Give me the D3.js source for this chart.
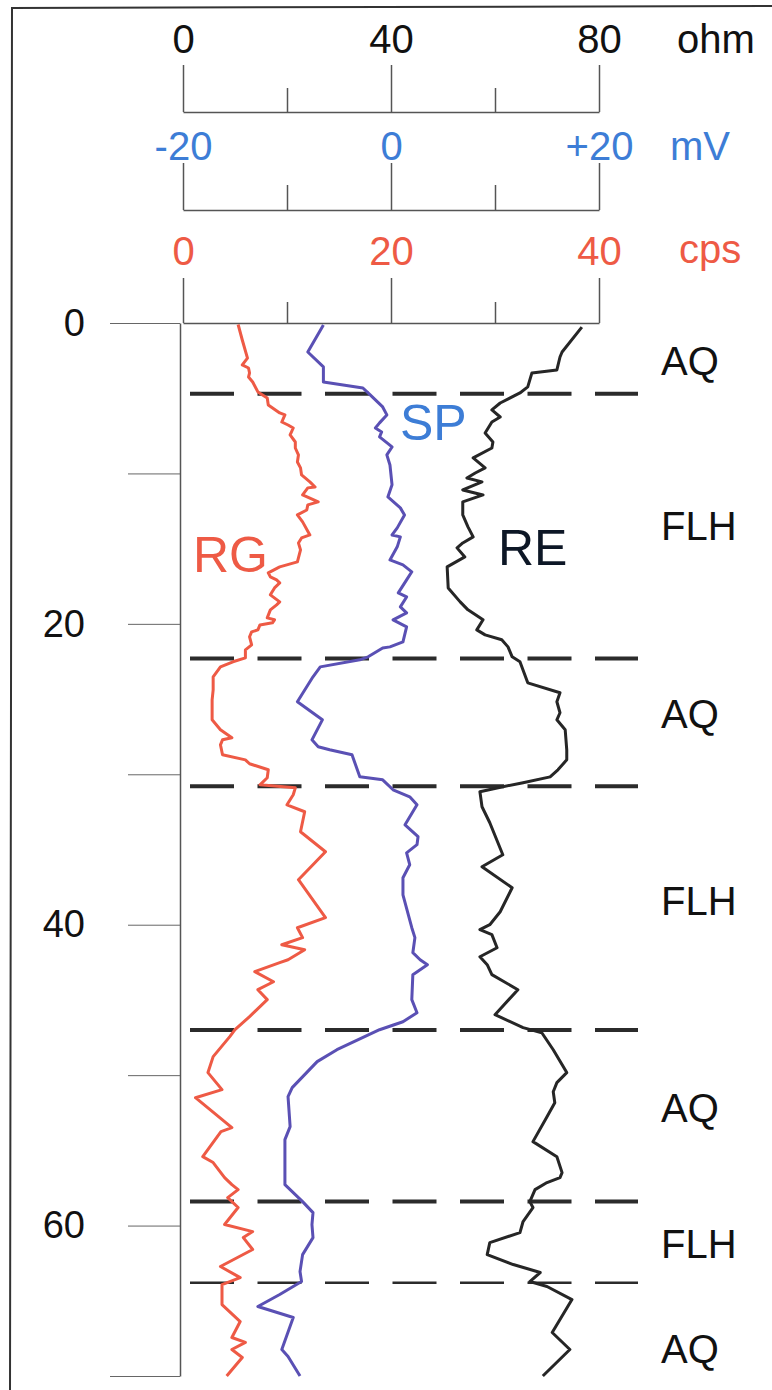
<!DOCTYPE html>
<html>
<head>
<meta charset="utf-8">
<script src="https://cdn.jsdelivr.net/npm/d3@7"></script>
<style>
  body { margin: 0; background: #fff; }
  svg { display: block; }
  text { font-family: 'Liberation Sans', Arial, sans-serif; }
</style>
</head>
<body>
<div id="chart"></div>
<script>
// depth (m) and readings along the well log
const rgDepth = [0.1, 1.13, 2.33, 2.79, 2.99, 3.32, 3.59, 3.92, 4.58, 4.98, 5.45, 5.98, 6.11, 6.58, 6.78, 6.98, 7.44, 7.91, 8.31, 8.77, 9.24, 9.63, 10.1, 10.56, 10.9, 10.96, 11.43, 11.89, 12.09, 12.43, 12.76, 13.22, 14.09, 14.29, 14.62, 15.08, 15.88, 16.21, 16.61, 16.88, 17.08, 17.28, 17.61, 18.07, 18.54, 18.74, 19.07, 19.6, 19.73, 19.93, 20.07, 20.4, 20.53, 20.86, 21.4, 21.73, 22.26, 22.52, 22.86, 23.52, 24.39, 25.05, 26.38, 27.04, 27.57, 27.71, 28.04, 28.7, 29.04, 29.3, 29.7, 30.23, 30.7, 30.9, 31.36, 32.03, 32.49, 33.82, 35.15, 37.01, 39.53, 40.2, 40.86, 41.33, 41.66, 42.33, 42.52, 43.12, 43.79, 44.32, 44.98, 46.11, 46.98, 47.44, 48.77, 49.83, 50.96, 51.5, 53.49, 53.75, 55.42, 55.81, 56.81, 57.28, 57.61, 58.14, 58.8, 59.93, 60.4, 60.8, 61.59, 62.72, 63.46, 63.92, 65.25, 66.38, 67.44, 67.77, 68.24, 68.77, 70.0];
const rgCps = [5.3, 5.7, 6.2, 5.7, 6.3, 6.4, 6.3, 6.7, 7.2, 8.1, 8.2, 9.3, 9.8, 9.5, 10.1, 10.6, 10.3, 10.8, 10.8, 11.1, 11.0, 11.3, 11.4, 12.2, 12.7, 12.0, 11.5, 13.0, 12.0, 11.9, 11.0, 11.5, 12.2, 11.4, 11.1, 11.3, 11.0, 9.3, 8.2, 8.4, 9.0, 9.3, 8.8, 8.4, 9.3, 9.0, 8.4, 8.1, 8.8, 8.6, 7.4, 7.2, 6.6, 6.4, 6.6, 6.0, 6.0, 4.8, 3.6, 2.9, 2.9, 2.8, 2.8, 3.6, 4.7, 3.8, 3.6, 3.8, 6.0, 6.4, 8.2, 8.1, 7.4, 10.8, 10.6, 10.0, 11.7, 11.3, 13.7, 11.1, 13.7, 11.0, 11.5, 9.5, 11.7, 10.1, 9.3, 6.9, 8.7, 7.2, 8.1, 6.4, 5.0, 4.5, 2.9, 2.4, 3.75, 1.2, 4.7, 3.65, 1.9, 2.9, 4.0, 4.7, 5.3, 4.3, 5.3, 4.0, 6.7, 5.8, 6.7, 3.6, 5.5, 3.75, 3.75, 5.5, 4.7, 6.0, 4.7, 5.7, 4.2];

const spDepth = [0.13, 1.93, 2.92, 3.92, 4.32, 4.78, 5.58, 6.11, 6.64, 6.98, 7.24, 7.57, 8.24, 8.77, 9.44, 10.76, 11.56, 12.29, 12.76, 13.62, 14.09, 14.22, 14.88, 15.75, 16.08, 16.54, 17.08, 17.94, 18.21, 18.87, 19.27, 19.73, 20.2, 21.2, 21.53, 21.6, 22.19, 22.39, 22.86, 23.52, 25.18, 26.38, 27.71, 28.17, 28.37, 28.7, 30.17, 30.37, 31.03, 31.5, 32.03, 33.36, 34.15, 34.68, 35.22, 36.01, 36.88, 38.01, 40.2, 40.86, 41.86, 42.33, 42.66, 43.32, 44.98, 45.85, 46.45, 46.98, 48.31, 49.1, 50.83, 51.43, 53.42, 54.29, 56.81, 57.28, 58.41, 59.14, 59.93, 60.8, 61.93, 63.06, 63.72, 64.58, 65.38, 66.11, 68.24, 68.7, 70.0];
const spMv = [-6.5, -8.0, -6.5, -6.5, -2.7, -2.0, -0.8, -0.4, -1.1, -1.5, -0.9, -1.1, 0.1, -0.4, -0.1, 0.1, -0.3, 0.9, 1.3, 0.6, 0.1, 0.9, 0.6, -0.1, 1.15, 2.0, 1.5, 0.7, 1.5, 0.9, 1.5, 0.2, 1.5, 1.15, -0.1, -0.8, -2.2, -3.0, -6.8, -7.5, -9.0, -6.6, -7.6, -7.0, -5.9, -3.75, -3.0, -0.8, 0.2, 1.8, 2.5, 1.35, 2.6, 2.5, 1.5, 1.8, 1.15, 1.15, 2.0, 2.3, 2.1, 2.8, 3.5, 2.1, 2.0, 2.5, 1.15, -1.1, -5.2, -7.1, -9.5, -9.9, -9.7, -10.2, -10.2, -10.2, -8.5, -7.5, -7.6, -7.5, -8.5, -8.75, -8.6, -10.7, -12.8, -9.4, -10.5, -9.9, -8.75];

const reDepth = [0.27, 1.93, 2.26, 3.12, 3.32, 4.25, 4.65, 5.32, 5.78, 6.25, 6.58, 7.31, 7.91, 8.31, 8.97, 9.63, 9.97, 10.3, 10.56, 11.1, 11.43, 11.89, 12.76, 13.55, 14.22, 14.62, 14.95, 15.55, 16.21, 17.61, 18.54, 19.07, 19.73, 20.4, 20.73, 21.06, 21.53, 22.19, 22.52, 23.92, 24.58, 25.18, 25.91, 26.38, 27.04, 28.37, 29.04, 29.7, 30.17, 30.56, 30.83, 31.16, 32.16, 33.22, 35.35, 36.15, 37.54, 39.14, 40.0, 40.33, 40.66, 41.53, 42.13, 42.66, 43.32, 44.32, 45.98, 46.84, 47.18, 48.31, 49.83, 50.5, 51.1, 51.83, 52.76, 54.42, 55.42, 56.48, 56.81, 57.14, 57.61, 58.41, 58.8, 59.73, 60.47, 61.13, 61.93, 62.59, 63.12, 63.72, 64.05, 64.92, 67.11, 68.24, 70.0];
const reOhm = [76.7, 72.9, 72.5, 71.9, 67.1, 66.3, 64.8, 61.0, 59.4, 61.0, 59.4, 58.1, 59.6, 59.4, 55.8, 58.1, 56.2, 54.6, 57.5, 53.8, 57.7, 53.8, 53.8, 54.8, 55.8, 53.8, 52.7, 54.2, 50.8, 51.0, 53.3, 54.8, 57.7, 56.5, 58.1, 61.3, 62.5, 63.3, 64.8, 66.3, 72.5, 71.9, 72.5, 71.9, 73.5, 73.8, 73.8, 72.1, 70.6, 65.4, 61.5, 57.1, 57.5, 59.0, 61.5, 57.5, 63.3, 61.0, 59.0, 57.1, 59.4, 60.4, 57.1, 58.5, 59.4, 64.4, 60.0, 65.4, 69.0, 71.2, 73.8, 71.9, 71.2, 71.5, 70.0, 67.3, 71.9, 72.9, 72.5, 70.0, 67.7, 66.7, 67.3, 65.4, 64.8, 59.0, 58.5, 63.5, 68.7, 66.7, 70.0, 74.8, 71.0, 74.4, 69.2];

const boundaries = [4.7, 22.3, 30.8, 47.0, 58.4, 63.8];
const layerNames = ['AQ', 'FLH', 'AQ', 'FLH', 'AQ', 'FLH', 'AQ'];
const layerMid = [2.5, 13.5, 26.0, 38.4, 52.2, 61.2, 68.2];

const depthTicks = [0, 10, 20, 30, 40, 50, 60, 70];
const depthLabels = [0, 20, 40, 60];
const ohmTicks = [0, 20, 40, 60, 80];
const mvTicks = [-20, -10, 0, 10, 20];
const cpsTicks = [0, 10, 20, 30, 40];

const width = 772, height = 1390;
const red = '#ee5a45', blue = '#3d7dd6', purple = '#5a50b4';

const svg = d3.select('#chart').append('svg')
    .attr('width', width)
    .attr('height', height);

// frame of the scan
svg.append('path')
    .attr('d', 'M10,1390 L12,8 L772,6')
    .attr('fill', 'none')
    .attr('stroke', '#333')
    .attr('stroke-width', 2);

const y = d3.scaleLinear().domain([0, 70]).range([323, 1376]);
const xOhm = d3.scaleLinear().domain([0, 80]).range([183, 599]);
const xMv = d3.scaleLinear().domain([-20, 20]).range([183, 599]);
const xCps = d3.scaleLinear().domain([0, 40]).range([183, 599]);

function topAxis(scale, ticks, yPos, major, minor, pad, color, fmt) {
    const g = svg.append('g')
        .attr('transform', 'translate(0,' + yPos + ')')
        .call(d3.axisTop(scale)
            .tickValues(ticks)
            .tickSize(major)
            .tickSizeOuter(0)
            .tickPadding(pad)
            .tickFormat(fmt));
    g.select('.domain').attr('stroke', '#555').attr('stroke-width', 1.5);
    g.selectAll('.tick line').attr('stroke', '#555').attr('stroke-width', 1.5)
        .attr('y2', (d, i) => i % 2 ? -minor : -major);
    g.selectAll('.tick text')
        .attr('fill', color)
        .attr('font-size', 40)
        .style('font-family', "'Liberation Sans', Arial, sans-serif")
        .text((d, i) => i % 2 ? '' : fmt(d));
    return g;
}

topAxis(xOhm, ohmTicks, 112, 47, 24, 12, '#111', d => String(d));
topAxis(xMv, mvTicks, 210, 47, 25, 3, blue, d => d > 0 ? '+' + d : String(d));
topAxis(xCps, cpsTicks, 323, 45, 21, 13, red, d => String(d));

svg.append('text').attr('x', 677).attr('y', 53).attr('font-size', 40).attr('fill', '#111').text('ohm');
svg.append('text').attr('x', 670).attr('y', 160).attr('font-size', 40).attr('fill', blue).text('mV');
svg.append('text').attr('x', 679).attr('y', 263).attr('font-size', 40).attr('fill', red).text('cps');

// depth axis
const dAxis = svg.append('g')
    .attr('transform', 'translate(180,0)')
    .call(d3.axisLeft(y)
        .tickValues(depthTicks)
        .tickSize(52)
        .tickSizeOuter(0)
        .tickFormat(d => depthLabels.includes(d) ? String(d) : ''));
dAxis.select('.domain').attr('stroke', '#555').attr('stroke-width', 1.5);
dAxis.selectAll('.tick line').attr('stroke', '#666').attr('stroke-width', 1)
    .attr('x2', d => (d === 0 || d === 70) ? -70 : -52);
dAxis.selectAll('.tick text')
    .attr('x', -95)
    .attr('font-size', 38)
    .attr('fill', '#111')
    .style('font-family', "'Liberation Sans', Arial, sans-serif");

// layer boundaries
svg.selectAll('.boundary')
    .data(boundaries)
    .enter()
    .append('line')
    .attr('class', 'boundary')
    .attr('x1', 190)
    .attr('x2', 638)
    .attr('y1', d => y(d))
    .attr('y2', d => y(d))
    .attr('stroke', '#2b2b2b')
    .attr('stroke-width', (d, i) => i === boundaries.length - 1 ? 2.5 : 4)
    .attr('stroke-dasharray', '44 23.5');

svg.selectAll('.layer')
    .data(layerNames)
    .enter()
    .append('text')
    .attr('class', 'layer')
    .attr('x', 661)
    .attr('y', (d, i) => y(layerMid[i]))
    .attr('dominant-baseline', 'central')
    .attr('font-size', 40)
    .attr('fill', '#111')
    .text(d => d);

// log curves
const curves = [
    { depth: rgDepth, vals: rgCps, x: xCps, color: red },
    { depth: spDepth, vals: spMv, x: xMv, color: purple },
    { depth: reDepth, vals: reOhm, x: xOhm, color: '#262626' }
];

curves.forEach(c => {
    const line = d3.line()
        .x((d, i) => c.x(c.vals[i]))
        .y(d => y(d));
    svg.append('path')
        .datum(c.depth)
        .attr('d', line)
        .attr('fill', 'none')
        .attr('stroke', c.color)
        .attr('stroke-width', 3)
        .attr('stroke-linejoin', 'round');
});

svg.append('text').attr('x', 193).attr('y', 572).attr('font-size', 50).attr('fill', red).text('RG');
svg.append('text').attr('x', 400).attr('y', 440).attr('font-size', 50).attr('fill', blue).text('SP');
svg.append('text').attr('x', 498).attr('y', 565).attr('font-size', 50).attr('fill', '#0d1726').text('RE');
</script>
</body>
</html>
